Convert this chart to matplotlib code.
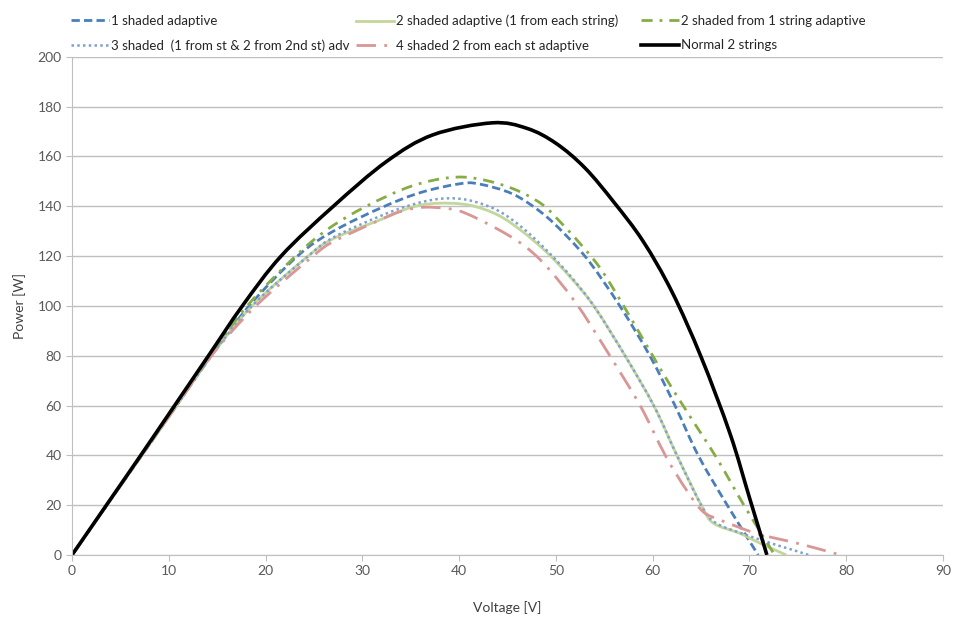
import numpy as np
import matplotlib.pyplot as plt
from matplotlib.path import Path
from matplotlib.patches import PathPatch
from matplotlib.lines import Line2D

# Voltage [V] / Power [W] pairs
v_normal = [0, 3.55, 7.1, 10.6, 14.1, 17.6, 21.6, 27.0, 32.5, 37.3, 43.4, 47, 50, 53, 56, 59, 62, 65, 68, 70, 71.8]
p_normal = [0, 20, 40, 60, 80, 100, 120, 140, 158, 168.7, 173.5, 171.3, 165.3, 155.4, 141.6, 126, 105.6, 79.5, 48.6, 23, 0]

v_1sh = [0, 3.6, 7.2, 10.8, 14.4, 18.3, 23.3, 27, 32, 36, 40, 42, 45.5, 48.5, 51, 53.5, 56.6, 59.7, 62.3, 64.7, 67.7, 70.9]
p_1sh = [0, 20, 40, 60, 80, 100, 120, 130, 139.5, 145.5, 149, 149, 145, 137.5, 128.5, 117.5, 100, 80, 60, 40, 20, 0]

v_2sh_1str = [0, 3.6, 7.2, 10.8, 14.3, 18.1, 23.1, 26.5, 30.4, 35, 39, 42, 45.6, 48.5, 50.5, 52.5, 54.6, 57, 60.9, 63.3, 66.6, 69.5, 72.6]
p_2sh_1str = [0, 20, 40, 60, 80, 100, 120, 131, 140, 148, 151.5, 151, 147, 141, 133.5, 125, 115, 100, 74, 59, 39, 19.5, 0]

v_3sh = [0, 3.6, 7.2, 10.8, 14.4, 18.6, 24.4, 27, 31.8, 35, 38, 40.8, 43.9, 46.5, 49, 51.5, 54, 57.3, 60.2, 62.5, 65.1, 66.6, 69.7, 72.8, 74.5, 76.1]
p_3sh = [0, 20, 40, 60, 80, 100, 120, 127.5, 136, 140.5, 143, 142.6, 138.5, 131.5, 122.5, 112, 99.5, 79, 59.3, 40, 19.4, 12.7, 8, 4, 2, 0]

v_2sh_each = [0, 3.6, 7.2, 10.8, 14.4, 18.6, 24.4, 27, 31.8, 35, 37.7, 41, 44, 46.5, 49, 51.5, 54, 57.3, 60.2, 62.5, 65.1, 66.3, 69.0, 71.1, 73.8]
p_2sh_each = [0, 20, 40, 60, 80, 100, 120, 127, 134.5, 139.5, 141.2, 140.5, 136.5, 130, 121.7, 111.5, 99.5, 79, 59.3, 40, 19.4, 12.7, 8.7, 4.7, 0]

v_4sh = [0, 3.6, 7.2, 10.8, 14.4, 19.0, 24.9, 27, 31.8, 34, 36.3, 39, 40.8, 43.9, 46.6, 49, 52.1, 55.2, 58.7, 61.3, 63.5, 65.2, 67, 70.1, 71.9, 74.2, 76.9, 79.4]
p_4sh = [0, 20, 40, 60, 80, 100, 120, 125.8, 134.5, 138, 139.6, 139, 137, 131, 124.5, 116, 101, 82.3, 60, 40, 26, 17.4, 14, 9.4, 7.4, 5.4, 2.7, 0]


def smooth_path(xs, ys):
    # Excel-like smoothed line: cubic Bezier through the points
    pts = np.column_stack([xs, ys]).astype(float)
    ext = np.vstack([pts[0], pts, pts[-1]])
    verts = [pts[0]]
    codes = [Path.MOVETO]
    for i in range(len(pts) - 1):
        p0, p1, p2, p3 = ext[i], ext[i + 1], ext[i + 2], ext[i + 3]
        verts += [p1 + (p2 - p0) / 6, p2 - (p3 - p1) / 6, p2]
        codes += [Path.CURVE4] * 3
    return Path(verts, codes)


plt.rcParams['font.family'] = ['Lato', 'DejaVu Sans']

fig = plt.figure(figsize=(9.54, 6.18), dpi=100)
ax = fig.add_axes([0.0755, 0.102, 0.913, 0.806])

series = [
    (v_1sh, p_1sh, dict(color='#4A7EBB', lw=2.0, dashes=(3, 1.5)), '1 shaded adaptive'),
    (v_2sh_each, p_2sh_each, dict(color='#C3D69B', lw=2.0), '2 shaded adaptive (1 from each string)'),
    (v_2sh_1str, p_2sh_1str, dict(color='#86AC46', lw=2.0, dashes=(4, 2.5, 1, 2.5)), '2 shaded from 1 string adaptive'),
    (v_3sh, p_3sh, dict(color='#7F9FD3', lw=1.8, dashes=(1, 1.3)), '3 shaded  (1 from st & 2 from 2nd st) adv'),
    (v_4sh, p_4sh, dict(color='#D99694', lw=2.0, dashes=(7, 3, 1, 3)), '4 shaded 2 from each st adaptive'),
    (v_normal, p_normal, dict(color='black', lw=2.6), 'Normal 2 strings'),
]

handles = []
for xs, ys, st, lab in series:
    ls = (0, st['dashes']) if 'dashes' in st else '-'
    ax.add_patch(PathPatch(smooth_path(xs, ys), facecolor='none', edgecolor=st['color'],
                           lw=st['lw'], linestyle=ls, capstyle='butt', joinstyle='round'))
    kw = dict(color=st['color'], lw=st['lw'])
    if 'dashes' in st:
        kw['dashes'] = st['dashes']
    handles.append(Line2D([], [], label=lab, **kw))

ax.set_xlim(0, 90)
ax.set_ylim(0, 200)
ax.set_xticks(range(0, 91, 10))
ax.set_yticks(range(0, 201, 20))
ax.yaxis.grid(True, color='#BFBFBF', lw=1)
ax.set_axisbelow(True)
for s in ['top', 'right']:
    ax.spines[s].set_visible(False)
for s in ['left', 'bottom']:
    ax.spines[s].set_color('#BFBFBF')
ax.tick_params(colors='#595959', labelsize=10, length=4)
ax.tick_params(axis='both', color='#BFBFBF')
ax.set_xlabel('Voltage [V]', fontsize=10, color='#404040', labelpad=17)
ax.set_ylabel('Power [W]', fontsize=10, color='#404040', labelpad=8)

# legend: three columns of two rows
cols = [(handles[0], handles[3]), (handles[1], handles[4]), (handles[2], handles[5])]
col_x = [64, 349, 634]
for (h1, h2), x in zip(cols, col_x):
    fig.legend([h1, h2], [h1.get_label(), h2.get_label()], loc='upper left',
               bbox_to_anchor=(x / 954, 1 - 8 / 618), frameon=False, borderpad=0,
               fontsize=9.5, handlelength=2.9, handletextpad=0.15,
               labelspacing=0.95, labelcolor='#262626')

fig.savefig('out.png', dpi=100)
